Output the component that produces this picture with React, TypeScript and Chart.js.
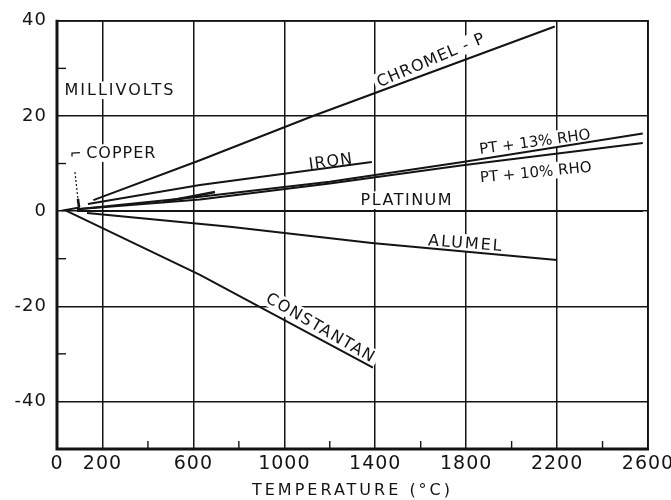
import React, { useEffect, useRef } from 'react';
import { Chart, registerables } from 'chart.js';

Chart.register(...registerables);

// ---- axis ticks ----
const X_TICKS = [0, 200, 600, 1000, 1400, 1800, 2200, 2600];
const X_MINOR = [400, 800, 1200, 1600, 2000, 2400];
const Y_TICKS = [-40, -20, 0, 20, 40];
const Y_MINOR = [-30, -10, 10, 30];

// ---- series (temperature °C, millivolts) ----
const chromelT = [160, 629, 1126, 2190];
const chromelMV = [2.3, 10.7, 20.0, 38.8];
const ironT = [136, 629, 1385];
const ironMV = [1.5, 5.5, 10.3];
const pt13T = [88, 629, 1200, 1785, 2577];
const pt13MV = [0.4, 3.0, 6.15, 10.3, 16.3];
const pt10T = [88, 629, 1200, 1785, 2577];
const pt10MV = [0.4, 2.45, 5.8, 9.65, 14.3];
const platinumT = [88, 2577];
const platinumMV = [0, 0];
const alumelT = [132, 761, 1385, 2199];
const alumelMV = [-0.4, -3.3, -6.7, -10.3];
const constantanT = [35, 629, 1390];
const constantanMV = [0.2, -13.4, -32.9];
const copperT = [20, 100];
const copperMV = [0.1, 0.75];
const segmentT = [466, 695];
const segmentMV = [1.9, 4.0];

const INK = '#141414';
const FONT = '"DejaVu Sans", sans-serif';

// text annotations (placed in data space)
const LABELS = [
  { text: 'MILLIVOLTS', t: 277, mv: 25.4, rot: 0, size: 16, spacing: 2 },
  { text: 'COPPER', t: 283, mv: 12.2, rot: 0, size: 16, spacing: 1 },
  { text: 'CHROMEL - P', t: 1645, mv: 31.8, rot: -23, size: 16, spacing: 1 },
  { text: 'IRON', t: 1205, mv: 10.5, rot: -7.6, size: 16, spacing: 1 },
  { text: 'PT + 13% RHO', t: 2102, mv: 14.6, rot: -7.7, size: 15, spacing: 0 },
  { text: 'PT + 10% RHO', t: 2106, mv: 8.2, rot: -5.5, size: 15, spacing: 0 },
  { text: 'PLATINUM', t: 1539, mv: 2.3, rot: 0, size: 16, spacing: 1.5 },
  { text: 'ALUMEL', t: 1799, mv: -6.7, rot: 4.5, size: 16, spacing: 2 },
  { text: 'CONSTANTAN', t: 1161, mv: -24.5, rot: 30, size: 16, spacing: 1.5 },
];

// copper leader (hook + arrow) in data space
const COPPER_HOOK_T = [66, 66, 101];
const COPPER_HOOK_MV = [11.5, 12.2, 12.3];
const COPPER_LEADER_T = [79, 92, 97];
const COPPER_LEADER_MV = [8.2, 2.6, 0.8];

const pts = (xs: number[], ys: number[]) => xs.map((x, i) => ({ x, y: ys[i] }));

const line = (label: string, xs: number[], ys: number[], width = 2) => ({
  label,
  data: pts(xs, ys),
  borderColor: INK,
  backgroundColor: INK,
  borderWidth: width,
  pointRadius: 0,
  tension: 0,
  fill: false,
});

const decorPlugin = {
  id: 'decor',
  beforeDraw(chart: any) {
    (chart.ctx as any).letterSpacing = '3px';
  },
  beforeDatasetsDraw(chart: any) {
    const { ctx, chartArea: a } = chart;
    const xs = chart.scales.x;
    const ys = chart.scales.y;
    ctx.save();
    // labels with paper-white backing (erases grid under text)
    for (const L of LABELS) {
      const px = xs.getPixelForValue(L.t);
      const py = ys.getPixelForValue(L.mv);
      ctx.save();
      ctx.translate(px, py);
      ctx.rotate((L.rot * Math.PI) / 180);
      ctx.font = `${L.size}px ${FONT}`;
      (ctx as any).letterSpacing = `${L.spacing}px`;
      ctx.textAlign = 'center';
      ctx.textBaseline = 'middle';
      const w = ctx.measureText(L.text).width;
      ctx.fillStyle = '#fff';
      ctx.fillRect(-w / 2 - 3, -L.size * 0.55, w + 6, L.size * 1.1);
      ctx.fillStyle = INK;
      ctx.fillText(L.text, 0, 1);
      ctx.restore();
    }
    // copper hook
    ctx.strokeStyle = INK;
    ctx.lineWidth = 1.3;
    ctx.beginPath();
    COPPER_HOOK_T.forEach((t, i) => {
      const x = xs.getPixelForValue(t);
      const y = ys.getPixelForValue(COPPER_HOOK_MV[i]);
      if (i === 0) ctx.moveTo(x, y); else ctx.lineTo(x, y);
    });
    ctx.stroke();
    // copper leader: dotted then solid heavy tip
    const lp = COPPER_LEADER_T.map((t, i) => [xs.getPixelForValue(t), ys.getPixelForValue(COPPER_LEADER_MV[i])]);
    ctx.setLineDash([2, 2]);
    ctx.lineWidth = 1.2;
    ctx.beginPath();
    ctx.moveTo(lp[0][0], lp[0][1]);
    ctx.lineTo(lp[1][0], lp[1][1]);
    ctx.stroke();
    ctx.setLineDash([]);
    ctx.lineWidth = 2.6;
    ctx.beginPath();
    ctx.moveTo(lp[1][0], lp[1][1]);
    ctx.lineTo(lp[2][0], lp[2][1]);
    ctx.stroke();
    // minor ticks (inward)
    ctx.lineWidth = 1.4;
    for (const v of X_MINOR) {
      const x = xs.getPixelForValue(v);
      ctx.beginPath();
      ctx.moveTo(x, a.bottom);
      ctx.lineTo(x, a.bottom - 8);
      ctx.stroke();
    }
    for (const v of Y_MINOR) {
      const y = ys.getPixelForValue(v);
      ctx.beginPath();
      ctx.moveTo(a.left, y);
      ctx.lineTo(a.left + 9, y);
      ctx.stroke();
    }
    // frame
    ctx.lineWidth = 1.8;
    ctx.beginPath();
    ctx.moveTo(a.left, a.top);
    ctx.lineTo(a.right, a.top);
    ctx.lineTo(a.right, a.bottom);
    ctx.stroke();
    ctx.lineWidth = 3;
    ctx.beginPath();
    ctx.moveTo(a.left, a.top - 1);
    ctx.lineTo(a.left, a.bottom);
    ctx.lineTo(a.right + 1, a.bottom);
    ctx.stroke();
    ctx.restore();
    (ctx as any).letterSpacing = '1px';
  },
};

export default function App() {
  const ref = useRef<HTMLCanvasElement | null>(null);

  useEffect(() => {
    if (!ref.current) return;
    const gridOpts = { color: INK, lineWidth: 1.5, drawTicks: false };
    const chart = new Chart(ref.current, {
      type: 'line',
      data: {
        datasets: [
          line('Chromel-P', chromelT, chromelMV),
          line('Iron', ironT, ironMV),
          line('Pt + 13% Rh', pt13T, pt13MV),
          line('Pt + 10% Rh', pt10T, pt10MV),
          line('Platinum', platinumT, platinumMV),
          line('Alumel', alumelT, alumelMV),
          line('Constantan', constantanT, constantanMV),
          line('Copper', copperT, copperMV),
          line('', segmentT, segmentMV, 2.6),
        ],
      },
      options: {
        responsive: false,
        animation: false,
        devicePixelRatio: 1,
        layout: { padding: { top: 20, right: 23, left: 0, bottom: 0 } },
        plugins: { legend: { display: false }, tooltip: { enabled: false } },
        scales: {
          x: {
            type: 'linear',
            min: 0,
            max: 2600,
            afterBuildTicks: (s: any) => { s.ticks = X_TICKS.map((value) => ({ value })); },
            afterFit: (s: any) => { s.height = 51; s.paddingLeft = 0; s.paddingRight = 0; },
            grid: gridOpts,
            border: { display: false },
            ticks: {
              z: 1,
              color: INK,
              font: { family: FONT, size: 19 },
              padding: 4,
              maxRotation: 0,
              autoSkip: false,
              callback: (v: any) => String(v),
            },
            title: {
              display: true,
              text: 'TEMPERATURE (°C)',
              color: INK,
              font: { family: FONT, size: 16 },
              padding: { top: 0, bottom: 0 },
            },
          },
          y: {
            type: 'linear',
            min: -50,
            max: 40,
            afterBuildTicks: (s: any) => { s.ticks = Y_TICKS.map((value) => ({ value })); },
            afterFit: (s: any) => { s.width = 57; },
            grid: gridOpts,
            border: { display: false },
            ticks: {
              z: 1,
              color: INK,
              font: { family: FONT, size: 18 },
              padding: 10,
              autoSkip: false,
              callback: (v: any) => String(v),
            },
          },
        },
      } as any,
      plugins: [decorPlugin],
    });
    return () => chart.destroy();
  }, []);

  return (
    <div style={{ position: 'fixed', left: 0, top: 0, width: 671, height: 500, background: '#fff' }}>
      <canvas ref={ref} width={671} height={500} style={{ display: 'block' }} />
    </div>
  );
}
